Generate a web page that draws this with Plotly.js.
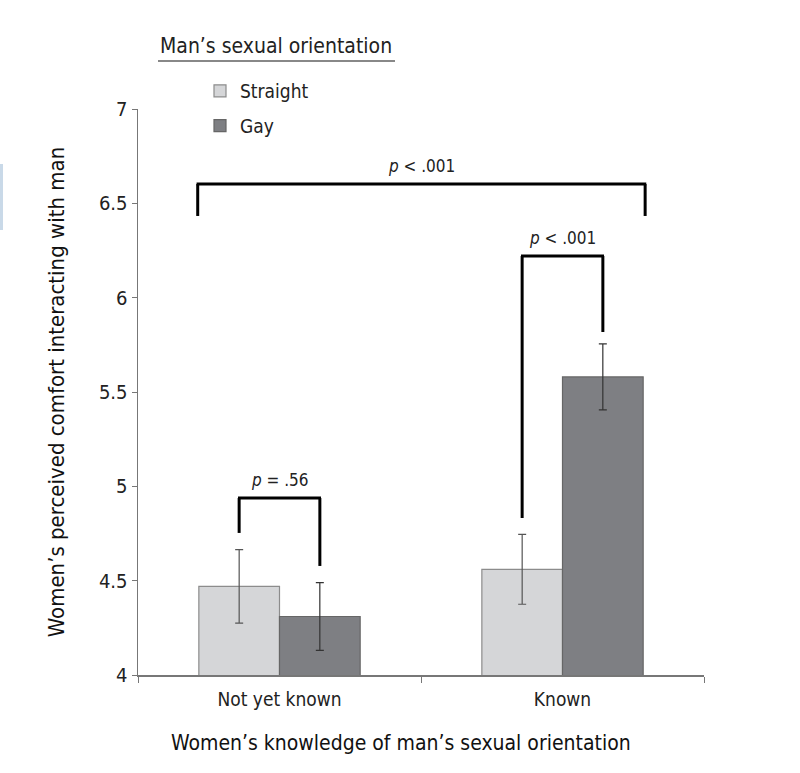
<!DOCTYPE html>
<html>
<head>
<meta charset="utf-8">
<script src="https://cdn.plot.ly/plotly-3.0.1.min.js"></script>
<style>
  html, body { margin: 0; padding: 0; background: #fff; }
  #chart { width: 800px; height: 773px; }
</style>
</head>
<body>
<div id="chart"></div>
<script>
// knowledge conditions
var categories = ['Not yet known', 'Known']

// mean comfort ratings and error bar half-widths
var straightMeans = [4.47, 4.56]
var straightErr = [0.195, 0.185]
var gayMeans = [4.31, 5.58]
var gayErr = [0.18, 0.175]

var yTicks = [4, 4.5, 5, 5.5, 6, 6.5, 7]
var yTickText = ['4', '4.5', '5', '5.5', '6', '6.5', '7']

var FONT = '"DejaVu Sans Condensed", "Liberation Sans", Arial, sans-serif'

var straight = {
  x: categories,
  y: straightMeans,
  name: 'Straight',
  type: 'bar',
  legendgroup: 'a',
  marker: { color: '#d5d6d8', line: { color: '#8c8c8c', width: 1.2 } },
  error_y: { type: 'data', array: straightErr, visible: true, color: '#555', thickness: 1.2, width: 4 }
}

var gay = {
  x: categories,
  y: gayMeans,
  name: 'Gay',
  type: 'bar',
  legendgroup: 'b',
  marker: { color: '#7e7f83', line: { color: '#666', width: 1.2 } },
  error_y: { type: 'data', array: gayErr, visible: true, color: '#333', thickness: 1.2, width: 4 }
}

// significance brackets (x in category index units, y in data units)
var off = 0.1426
function bracket(xa, xb, ya, yTop, yb) {
  var ln = { color: '#000', width: 3 }
  return [
    { type: 'line', xref: 'x', yref: 'y', x0: xa, x1: xa, y0: ya, y1: yTop, line: ln },
    { type: 'line', xref: 'x', yref: 'y', x0: xa - 0.004, x1: xb + 0.004, y0: yTop, y1: yTop, line: ln },
    { type: 'line', xref: 'x', yref: 'y', x0: xb, x1: xb, y0: yTop, y1: yb, line: ln }
  ]
}

var shapes = []
shapes = shapes.concat(bracket(-off, off, 4.753, 4.938, 4.578))
shapes = shapes.concat(bracket(1 - off, 1 + off, 4.832, 6.221, 5.818))
shapes = shapes.concat(bracket(-0.289, 1.292, 6.433, 6.602, 6.433))

// underline of the legend heading
shapes.push({ type: 'line', xref: 'paper', yref: 'paper',
  x0: (158 - 138) / 566, x1: (395 - 138) / 566,
  y0: (675 - 61) / 566, y1: (675 - 61) / 566,
  line: { color: '#888', width: 2 } })
// crop artefact at left edge
shapes.push({ type: 'rect', xref: 'paper', yref: 'paper',
  x0: -138 / 566, x1: -135 / 566, y0: (675 - 230) / 566, y1: (675 - 164) / 566,
  fillcolor: '#c9d9e8', line: { width: 0 } })

var pfont = { family: FONT, size: 17, color: '#222' }
var annotations = [
  { text: '<i>p</i> = .56', x: 0, y: 4.938, xref: 'x', yref: 'y', yanchor: 'bottom', yshift: 6, showarrow: false, font: pfont },
  { text: '<i>p</i> < .001', x: 1, y: 6.221, xref: 'x', yref: 'y', yanchor: 'bottom', yshift: 6, showarrow: false, font: pfont },
  { text: '<i>p</i> < .001', x: 0.5, y: 6.602, xref: 'x', yref: 'y', yanchor: 'bottom', yshift: 6, showarrow: false, font: pfont },
  { text: 'Man\u2019s sexual orientation', xref: 'paper', yref: 'paper',
    x: (158 - 138) / 566, y: (675 - 46) / 566, xanchor: 'left', yanchor: 'middle',
    showarrow: false, font: { family: FONT, size: 21, color: '#222' } },
  // x axis title, centred a bit left of the plot centre as in the figure
  { text: 'Women\u2019s knowledge of man\u2019s sexual orientation', xref: 'paper', yref: 'paper',
    x: (401 - 138) / 566, y: (675 - 743) / 566, xanchor: 'center', yanchor: 'middle',
    showarrow: false, font: { family: FONT, size: 21, color: '#111' } }
]

var layout = {
  width: 800,
  height: 773,
  margin: { l: 138, r: 96, t: 109, b: 98 },
  paper_bgcolor: '#fff',
  plot_bgcolor: '#fff',
  font: { family: FONT, color: '#222' },
  barmode: 'group',
  bargap: 0.43,
  bargroupgap: 0,
  showlegend: true,
  legend: {
    x: (200 - 138) / 566, y: (675 - 72) / 566, xanchor: 'left', yanchor: 'top',
    bgcolor: 'rgba(0,0,0,0)', font: { family: FONT, size: 19, color: '#222' },
    tracegroupgap: 7, itemwidth: 30
  },
  xaxis: {
    type: 'category',
    range: [-0.5, 1.5],
    showline: true, linecolor: '#777', linewidth: 1.5,
    ticks: 'outside', tickson: 'boundaries', ticklen: 6, tickcolor: '#777',
    ticklabelstandoff: 7,
    showgrid: false, zeroline: false,
    tickfont: { family: FONT, size: 19, color: '#222' }
  },
  yaxis: {
    range: [4, 7],
    tickvals: yTicks, ticktext: yTickText,
    showline: true, linecolor: '#777', linewidth: 1.5,
    ticks: 'outside', ticklen: 5, tickcolor: '#777',
    showgrid: false, zeroline: false,
    tickfont: { family: FONT, size: 20, color: '#222' },
    title: { text: 'Women\u2019s perceived comfort interacting with man', standoff: 28,
      font: { family: FONT, size: 22, color: '#111' } }
  },
  shapes: shapes,
  annotations: annotations
}

Plotly.newPlot('chart', [straight, gay], layout, { displayModeBar: false, staticPlot: true })
</script>
</body>
</html>
